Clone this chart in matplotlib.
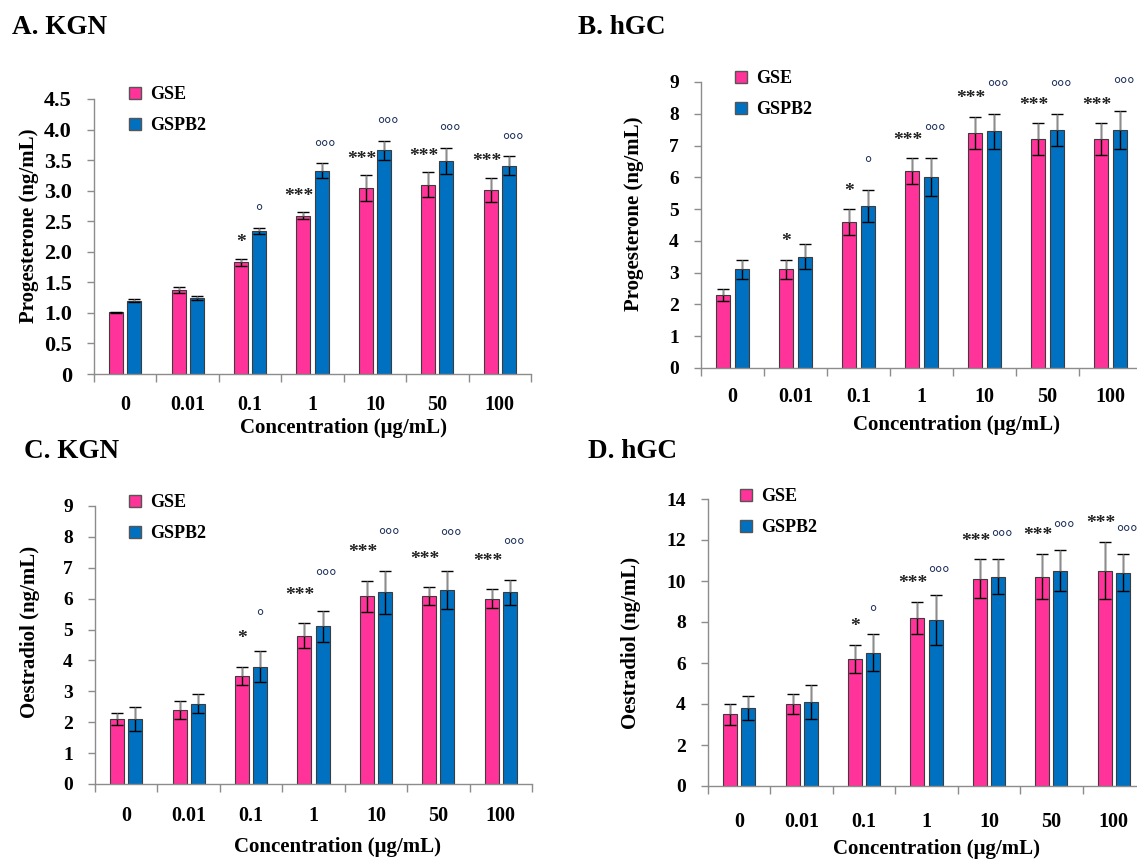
import matplotlib
matplotlib.use('Agg')
import matplotlib.pyplot as plt
from matplotlib.patches import Patch
import numpy as np

plt.rcParams['font.family'] = ['Liberation Serif', 'DejaVu Serif']
plt.rcParams['font.weight'] = 'bold'
plt.rcParams['axes.labelweight'] = 'bold'

# ---- data ----
concentrations = ['0', '0.01', '0.1', '1', '10', '50', '100']
series_names = ['GSE', 'GSPB2']

prog_kgn_gse = [1.01, 1.38, 1.83, 2.59, 3.04, 3.10, 3.01]
prog_kgn_gse_err = [0.01, 0.05, 0.06, 0.06, 0.21, 0.20, 0.20]
prog_kgn_gspb2 = [1.20, 1.24, 2.34, 3.33, 3.66, 3.49, 3.41]
prog_kgn_gspb2_err = [0.02, 0.03, 0.05, 0.12, 0.16, 0.21, 0.15]

prog_hgc_gse = [2.3, 3.1, 4.6, 6.2, 7.4, 7.2, 7.2]
prog_hgc_gse_err = [0.2, 0.3, 0.4, 0.4, 0.5, 0.5, 0.5]
prog_hgc_gspb2 = [3.1, 3.5, 5.1, 6.0, 7.45, 7.5, 7.5]
prog_hgc_gspb2_err = [0.3, 0.4, 0.5, 0.6, 0.55, 0.5, 0.6]

oes_kgn_gse = [2.1, 2.4, 3.5, 4.8, 6.08, 6.08, 6.0]
oes_kgn_gse_err = [0.2, 0.3, 0.3, 0.4, 0.5, 0.3, 0.3]
oes_kgn_gspb2 = [2.1, 2.6, 3.8, 5.1, 6.2, 6.28, 6.2]
oes_kgn_gspb2_err = [0.4, 0.3, 0.5, 0.5, 0.7, 0.6, 0.4]

oes_hgc_gse = [3.5, 4.0, 6.2, 8.2, 10.1, 10.2, 10.5]
oes_hgc_gse_err = [0.5, 0.5, 0.7, 0.8, 0.95, 1.1, 1.4]
oes_hgc_gspb2 = [3.8, 4.1, 6.5, 8.1, 10.2, 10.5, 10.4]
oes_hgc_gspb2_err = [0.6, 0.85, 0.9, 1.2, 0.85, 1.0, 0.9]

# significance marks (vs control)
kgn_gse_sig = ['', '', '*', '***', '***', '***', '***']
hgc_gse_sig = ['', '*', '*', '***', '***', '***', '***']
gspb2_sig = ['', '', '°', '°°°', '°°°', '°°°', '°°°']

prog_kgn_yticks = ['0', '0.5', '1.0', '1.5', '2.0', '2.5', '3.0', '3.5', '4.0', '4.5']
prog_hgc_yticks = ['0', '1', '2', '3', '4', '5', '6', '7', '8', '9']
oes_kgn_yticks = ['0', '1', '2', '3', '4', '5', '6', '7', '8', '9']
oes_hgc_yticks = ['0', '2', '4', '6', '8', '10', '12', '14']

# ---- styling ----
pink = '#ff3399'
blue = '#0070c0'
grey = '#8c8c8c'
W, H = 1137, 859

fig = plt.figure(figsize=(W / 100, H / 100), dpi=100)


def px_axes(left, top, width, height):
    return fig.add_axes([left / W, 1 - (top + height) / H, width / W, height / H])


panels = [
    dict(title='A. KGN', title_xy=(12, 27), box=(94, 99, 437, 275),
         gse=prog_kgn_gse, gse_err=prog_kgn_gse_err, gspb2=prog_kgn_gspb2, gspb2_err=prog_kgn_gspb2_err,
         gse_sig=kgn_gse_sig, gspb2_sig=gspb2_sig,
         yticks=prog_kgn_yticks, ystep=0.5, ylabel='Progesterone (ng/mL)', ytick_size=16,
         ylabel_xy=(-0.126, 0.54), xlabel_xy=(0.57, -0.16), xpad=15, legend_xy=(129, 86),
         sig_pad=(0.058, 0.055)),
    dict(title='B. hGC', title_xy=(578, 27), box=(701, 82, 441, 286),
         gse=prog_hgc_gse, gse_err=prog_hgc_gse_err, gspb2=prog_hgc_gspb2, gspb2_err=prog_hgc_gspb2_err,
         gse_sig=hgc_gse_sig, gspb2_sig=gspb2_sig,
         yticks=prog_hgc_yticks, ystep=1, ylabel='Progesterone (ng/mL)', ytick_size=14,
         ylabel_xy=(-0.129, 0.54), xlabel_xy=(0.58, -0.165), xpad=14, legend_xy=(735, 70),
         sig_pad=(0.063, 0.089)),
    dict(title='C. KGN', title_xy=(24, 451), box=(95, 506, 437, 278),
         gse=oes_kgn_gse, gse_err=oes_kgn_gse_err, gspb2=oes_kgn_gspb2, gspb2_err=oes_kgn_gspb2_err,
         gse_sig=kgn_gse_sig, gspb2_sig=gspb2_sig,
         yticks=oes_kgn_yticks, ystep=1, ylabel='Oestradiol (ng/mL)', ytick_size=14,
         ylabel_xy=(-0.126, 0.547), xlabel_xy=(0.554, -0.19), xpad=16, legend_xy=(129, 494),
         sig_pad=(0.10, 0.122)),
    dict(title='D. hGC', title_xy=(588, 451), box=(708, 499, 437, 287),
         gse=oes_hgc_gse, gse_err=oes_hgc_gse_err, gspb2=oes_hgc_gspb2, gspb2_err=oes_hgc_gspb2_err,
         gse_sig=kgn_gse_sig, gspb2_sig=gspb2_sig,
         yticks=oes_hgc_yticks, ystep=2, ylabel='Oestradiol (ng/mL)', ytick_size=14,
         ylabel_xy=(-0.153, 0.50), xlabel_xy=(0.524, -0.185), xpad=19, legend_xy=(740, 488),
         sig_pad=(0.064, 0.072)),
]

x = np.arange(len(concentrations))
bw = 0.224
off = 0.145

for p in panels:
    ax = px_axes(*p['box'])
    yt = np.arange(len(p['yticks'])) * p['ystep']
    ymax = yt[-1]
    for vals, errs, col, dx in [(p['gse'], p['gse_err'], pink, -off),
                                (p['gspb2'], p['gspb2_err'], blue, off)]:
        vals = np.array(vals)
        errs = np.array(errs)
        ax.bar(x + dx, vals, width=bw, color=col, edgecolor='#3c3c3c', linewidth=0.8, zorder=2)
        ax.errorbar(x + dx, vals, yerr=errs, fmt='none', ecolor='black', elinewidth=1,
                    capsize=4, capthick=1, zorder=3)
        ax.vlines(x + dx, vals, vals + errs, color=grey, linewidth=1, zorder=4)
    marks = [(p['gse_sig'], p['gse'], p['gse_err'], -off, -0.07, '#222222', 14, p['sig_pad'][0]),
             (p['gspb2_sig'], p['gspb2'], p['gspb2_err'], off, 0.06, '#1a2c58', 13, p['sig_pad'][1])]
    for sigs, vals, errs, dx, shift, col, fs, pad in marks:
        for i, s in enumerate(sigs):
            if s:
                xs = x[i] + dx + (shift if len(s) > 1 else 0)
                ax.text(xs, vals[i] + errs[i] + pad * ymax, s, ha='center', va='center',
                        fontsize=fs, color=col, clip_on=False)

    ax.set_xlim(-0.5, len(concentrations) - 0.5)
    ax.set_ylim(0, ymax)
    ax.set_yticks(yt)
    ax.set_yticklabels(p['yticks'], fontsize=p['ytick_size'])
    ax.tick_params(axis='y', direction='out', length=5, width=1, color=grey, pad=11)
    ax.set_xticks(np.arange(len(concentrations) + 1) - 0.5)
    ax.set_xticklabels([])
    ax.set_xticks(x, minor=True)
    ax.set_xticklabels(concentrations, minor=True, fontsize=14.5)
    ax.tick_params(axis='x', which='major', direction='out', length=6, width=1, color=grey)
    ax.tick_params(axis='x', which='minor', length=0, pad=p['xpad'])
    for s in ['top', 'right']:
        ax.spines[s].set_visible(False)
    for s in ['left', 'bottom']:
        ax.spines[s].set_color(grey)
        ax.spines[s].set_linewidth(1)

    ax.set_ylabel(p['ylabel'], fontsize=15)
    ax.yaxis.set_label_coords(*p['ylabel_xy'])
    ax.set_xlabel('Concentration (μg/mL)', fontsize=15)
    ax.xaxis.set_label_coords(*p['xlabel_xy'])

    handles = [Patch(facecolor=pink, edgecolor='#555555'), Patch(facecolor=blue, edgecolor='#555555')]
    lx, ly = p['legend_xy']
    ax.legend(handles, series_names, loc='upper left', bbox_to_anchor=(lx / W, 1 - ly / H),
              bbox_transform=fig.transFigure, frameon=False, handlelength=0.65, handleheight=0.65,
              handletextpad=0.5, labelspacing=0.78, borderaxespad=0, borderpad=0,
              prop={'size': 13, 'weight': 'bold'})

    tx, ty = p['title_xy']
    fig.text(tx / W, 1 - ty / H, p['title'], fontsize=19.5, fontweight='bold', va='center')

fig.savefig('out.png', dpi=100)
